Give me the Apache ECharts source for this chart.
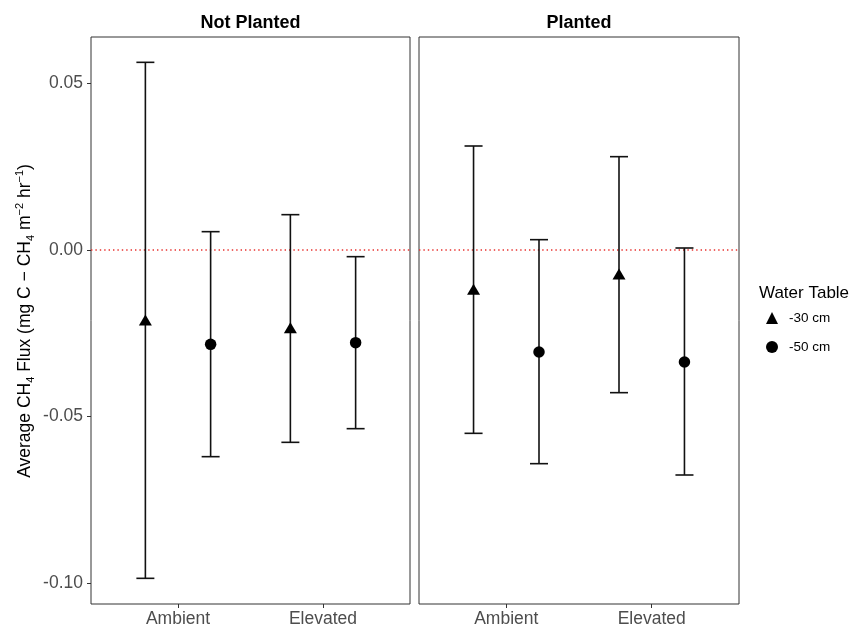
<!DOCTYPE html>
<html>
<head>
<meta charset="utf-8">
<script src="https://cdn.jsdelivr.net/npm/echarts@6/dist/echarts.min.js"></script>
<style>
html,body{margin:0;padding:0;background:#fff;}
#main{width:852px;height:628px;}
</style>
</head>
<body>
<div id="main"></div>
<script>
// ---- data ----
const categories = ['Ambient', 'Elevated'];
const panels = ['Not Planted', 'Planted'];
const groups = ['-30 cm', '-50 cm'];
const yTicks = [-0.10, -0.05, 0.00, 0.05];

// Not Planted
const np30Mean = [-0.0210, -0.0233];
const np30Low  = [-0.0985, -0.0577];
const np30High = [ 0.0563,  0.0106];
const np50Mean = [-0.0283, -0.0278];
const np50Low  = [-0.0620, -0.0536];
const np50High = [ 0.0055, -0.0020];
// Planted
const p30Mean = [-0.0118, -0.0072];
const p30Low  = [-0.0550, -0.0428];
const p30High = [ 0.0312,  0.0280];
const p50Mean = [-0.0306, -0.0336];
const p50Low  = [-0.0641, -0.0675];
const p50High = [ 0.0031,  0.0006];

// ---- layout helpers ----
const dodge = 0.225;
const capHalf = 0.062;
const yMin = -0.1062, yMax = 0.0639;
const FONT = '"Liberation Sans", Arial, sans-serif';

const panelData = [
  { g30: [np30Mean, np30Low, np30High], g50: [np50Mean, np50Low, np50High] },
  { g30: [p30Mean, p30Low, p30High],   g50: [p50Mean, p50Low, p50High] }
];

const grids = [
  { left: 91, top: 37, width: 319, height: 567 },
  { left: 419, top: 37, width: 320, height: 567 }
];

const chart = echarts.init(document.getElementById('main'), null, { renderer: 'canvas' });

const grid = grids.map(g => Object.assign({ show: true, borderColor: '#333', borderWidth: 1, backgroundColor: '#fff', containLabel: false }, g));

const xAxis = grids.map((g, i) => ({
  type: 'value', gridIndex: i, min: 0.4, max: 2.6, position: 'bottom',
  splitLine: { show: false },
  axisLine: { show: false, onZero: false },
  axisTick: { show: true, length: 4, lineStyle: { color: '#333', width: 1 }, customValues: [1, 2] },
  axisLabel: {
    show: true, customValues: [1, 2], margin: 6,
    color: '#4d4d4d', fontSize: 17.5, fontFamily: FONT,
    formatter: v => categories[Math.round(v) - 1] || ''
  }
}));

const yAxis = grids.map((g, i) => ({
  type: 'value', gridIndex: i, min: yMin, max: yMax, position: 'left',
  splitLine: { show: false },
  axisLine: { show: false, onZero: false },
  axisTick: { show: i === 0, length: 4, lineStyle: { color: '#333', width: 1 }, customValues: yTicks },
  axisLabel: {
    show: i === 0, customValues: yTicks, margin: 8,
    color: '#4d4d4d', fontSize: 17.5, fontFamily: FONT,
    formatter: v => v.toFixed(2)
  }
}));

function errRender(params, api) {
  const x = api.value(0), lo = api.value(1), hi = api.value(2);
  const pTop = api.coord([x, hi]);
  const pBot = api.coord([x, lo]);
  const cL = api.coord([x - capHalf, hi]);
  const cR = api.coord([x + capHalf, hi]);
  const bL = api.coord([x - capHalf, lo]);
  const bR = api.coord([x + capHalf, lo]);
  const st = { stroke: '#111', lineWidth: 1.6 };
  return {
    type: 'group',
    children: [
      { type: 'line', shape: { x1: pTop[0], y1: pTop[1], x2: pBot[0], y2: pBot[1] }, style: st },
      { type: 'line', shape: { x1: cL[0], y1: cL[1], x2: cR[0], y2: cR[1] }, style: st },
      { type: 'line', shape: { x1: bL[0], y1: bL[1], x2: bR[0], y2: bR[1] }, style: st }
    ]
  };
}

const series = [];
panelData.forEach((pd, pi) => {
  // zero reference line
  series.push({
    type: 'line', xAxisIndex: pi, yAxisIndex: pi, silent: true, symbol: 'none',
    data: [[0.4, 0], [2.6, 0]],
    lineStyle: { color: '#e8322f', width: 1.4, type: [1.4, 3.0] }, z: 1
  });
  [['g30', -dodge, 'triangle', 13, groups[0]], ['g50', dodge, 'circle', 11.5, groups[1]]].forEach(([key, off, sym, size, name]) => {
    const [mean, lo, hi] = pd[key];
    series.push({
      type: 'custom', xAxisIndex: pi, yAxisIndex: pi, silent: true, z: 2,
      renderItem: errRender,
      data: categories.map((c, ci) => [ci + 1 + off, lo[ci], hi[ci]])
    });
    series.push({
      type: 'scatter', name: name, xAxisIndex: pi, yAxisIndex: pi, z: 3,
      symbol: sym, symbolSize: sym === 'triangle' ? [13, 11] : size,
      itemStyle: { color: '#000', opacity: 1 },
      data: categories.map((c, ci) => [ci + 1 + off, mean[ci]])
    });
  });
});

const option = {
  animation: false,
  backgroundColor: '#fff',
  grid, xAxis, yAxis, series,
  legend: {
    orient: 'vertical', left: 766, top: 311, padding: 0,
    itemWidth: 12, itemHeight: 12, itemGap: 15,
    data: [
      { name: groups[0], icon: 'triangle', itemStyle: { color: '#000' } },
      { name: groups[1], icon: 'circle', itemStyle: { color: '#000' } }
    ],
    textStyle: { fontSize: 13.5, color: '#000', fontFamily: FONT, padding: [0, 0, 0, 6] },
    selectedMode: false
  },
  graphic: [
    { type: 'text', x: 250.5, y: 23,
      style: { text: panels[0], font: 'bold 18px ' + FONT, fill: '#000', textAlign: 'center', textVerticalAlign: 'middle' } },
    { type: 'text', x: 579, y: 23,
      style: { text: panels[1], font: 'bold 18px ' + FONT, fill: '#000', textAlign: 'center', textVerticalAlign: 'middle' } },
    { type: 'text', x: 759, y: 293,
      style: { text: 'Water Table', font: '17px ' + FONT, fill: '#000', textAlign: 'left', textVerticalAlign: 'middle' } },
    { type: 'text', x: 25, y: 321, rotation: Math.PI / 2,
      style: {
        text: '{n|Average CH}{sub|4}{n| Flux (mg C \u2212 CH}{sub|4}{n| m}{sup|\u22122}{n| hr}{sup|\u22121}{n|)}',
        textAlign: 'center', textVerticalAlign: 'middle', fill: '#000',
        rich: {
          n: { fontSize: 17.5, fontFamily: FONT, color: '#000', lineHeight: 22, verticalAlign: 'middle' },
          sub: { fontSize: 11, fontFamily: FONT, color: '#000', lineHeight: 11, verticalAlign: 'bottom' },
          sup: { fontSize: 11, fontFamily: FONT, color: '#000', lineHeight: 11, verticalAlign: 'top' }
        }
      } }
  ]
};

chart.setOption(option);
</script>
</body>
</html>
